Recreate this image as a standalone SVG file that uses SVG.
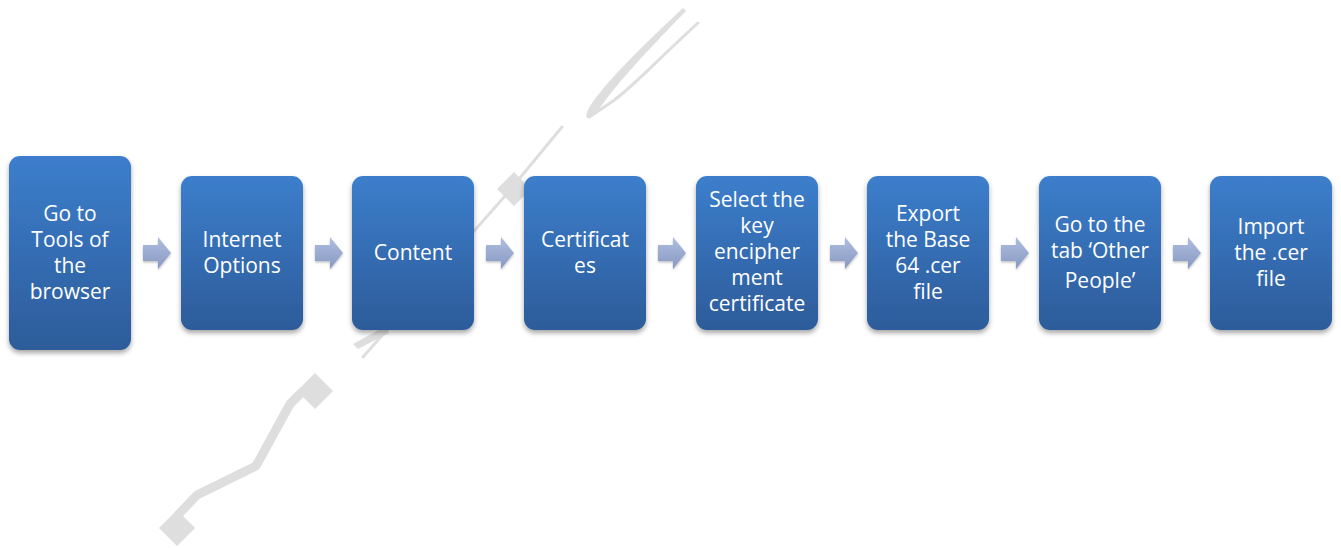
<svg xmlns="http://www.w3.org/2000/svg" width="1341" height="548" viewBox="0 0 1341 548">
<defs>
<linearGradient id="boxg" x1="0" y1="0" x2="0" y2="1">
<stop offset="0" stop-color="#3c7ecc"/>
<stop offset="1" stop-color="#2d5c9a"/>
</linearGradient>
<linearGradient id="arrg" x1="0" y1="0" x2="0" y2="1">
<stop offset="0" stop-color="#afbedf"/>
<stop offset="1" stop-color="#8798c2"/>
</linearGradient>
<filter id="sh" x="-20%" y="-20%" width="140%" height="140%">
<feDropShadow dx="0" dy="3" stdDeviation="2.5" flood-color="#000" flood-opacity="0.35"/>
</filter>
<filter id="ash" x="-30%" y="-30%" width="160%" height="160%">
<feDropShadow dx="0" dy="1.5" stdDeviation="1.2" flood-color="#000" flood-opacity="0.25"/>
</filter>
</defs>
<style>
.box{fill:url(#boxg);filter:url(#sh)}
.lbl{fill:#ffffff;font-family:"Open Sans","Liberation Sans",sans-serif;font-size:21px;text-anchor:middle}
.arr{fill:url(#arrg);filter:url(#ash)}
.wm{fill:#dedede}
.wms{fill:none;stroke:#dedede;stroke-linecap:round;stroke-linejoin:round}
</style>
<rect width="1341" height="548" fill="#ffffff"/>
<g id="watermark">
<path class="wm" d="M683,8 C640,48 602,86 589,108 C583,119 588,121 596,114 C612,88 648,50 686,11 Z"/>
<path class="wms" stroke-width="3" d="M698,23 C655,62 628,92 610,103 C600,110 593,115 589,117"/>
<path class="wms" stroke-width="3" d="M562,127 L505,196 L363,357"/>
<path class="wm" d="M514,172 L531,189 L514,206 L497,189 Z"/>
<path class="wm" d="M353,344 L386,326 L389,333 L358,349 Z"/>
<path class="wm" d="M315,373 L333,391 L315,409 L297,391 Z"/>
<path class="wms" stroke-width="9" stroke-linecap="butt" d="M301,393 L290,404 L256,466 L197,495 L178,515"/>
<path class="wm" d="M177,510 L195,528 L177,546 L159,528 Z"/>
</g>
<g id="connectors">
<path class="arr" d="M143,245 H158 V237 L171,253 L158,269 V261 H143 Z"/>
<path class="arr" d="M315,245 H330 V237 L343,253 L330,269 V261 H315 Z"/>
<path class="arr" d="M486,245 H501 V237 L514,253 L501,269 V261 H486 Z"/>
<path class="arr" d="M658,245 H673 V237 L686,253 L673,269 V261 H658 Z"/>
<path class="arr" d="M830,245 H845 V237 L858,253 L845,269 V261 H830 Z"/>
<path class="arr" d="M1001,245 H1016 V237 L1029,253 L1016,269 V261 H1001 Z"/>
<path class="arr" d="M1173,245 H1188 V237 L1201,253 L1188,269 V261 H1173 Z"/>
</g>
<g id="node1">
<rect class="box" x="9" y="156" width="122" height="194" rx="11"/>
<text class="lbl" x="70" y="221">Go to</text>
<text class="lbl" x="70" y="247">Tools of</text>
<text class="lbl" x="70" y="273">the</text>
<text class="lbl" x="70" y="299">browser</text>
</g>
<g id="node2">
<rect class="box" x="181" y="176" width="122" height="154" rx="11"/>
<text class="lbl" x="242" y="247">Internet</text>
<text class="lbl" x="242" y="273">Options</text>
</g>
<g id="node3">
<rect class="box" x="352" y="176" width="122" height="154" rx="11"/>
<text class="lbl" x="413" y="260">Content</text>
</g>
<g id="node4">
<rect class="box" x="524" y="176" width="122" height="154" rx="11"/>
<text class="lbl" x="585" y="247">Certificat</text>
<text class="lbl" x="585" y="273">es</text>
</g>
<g id="node5">
<rect class="box" x="696" y="176" width="122" height="154" rx="11"/>
<text class="lbl" x="757" y="207">Select the</text>
<text class="lbl" x="757" y="233">key</text>
<text class="lbl" x="757" y="259">encipher</text>
<text class="lbl" x="757" y="285">ment</text>
<text class="lbl" x="757" y="311">certificate</text>
</g>
<g id="node6">
<rect class="box" x="867" y="176" width="122" height="154" rx="11"/>
<text class="lbl" x="928" y="221">Export</text>
<text class="lbl" x="928" y="247">the Base</text>
<text class="lbl" x="928" y="273">64 .cer</text>
<text class="lbl" x="928" y="299">file</text>
</g>
<g id="node7">
<rect class="box" x="1039" y="176" width="122" height="154" rx="11"/>
<text class="lbl" x="1100" y="232">Go to the</text>
<text class="lbl" x="1100" y="258">tab ‘Other</text>
<text class="lbl" x="1100" y="288">People’</text>
</g>
<g id="node8">
<rect class="box" x="1210" y="176" width="122" height="154" rx="11"/>
<text class="lbl" x="1271" y="234">Import</text>
<text class="lbl" x="1271" y="260">the .cer</text>
<text class="lbl" x="1271" y="286">file</text>
</g>
</svg>
